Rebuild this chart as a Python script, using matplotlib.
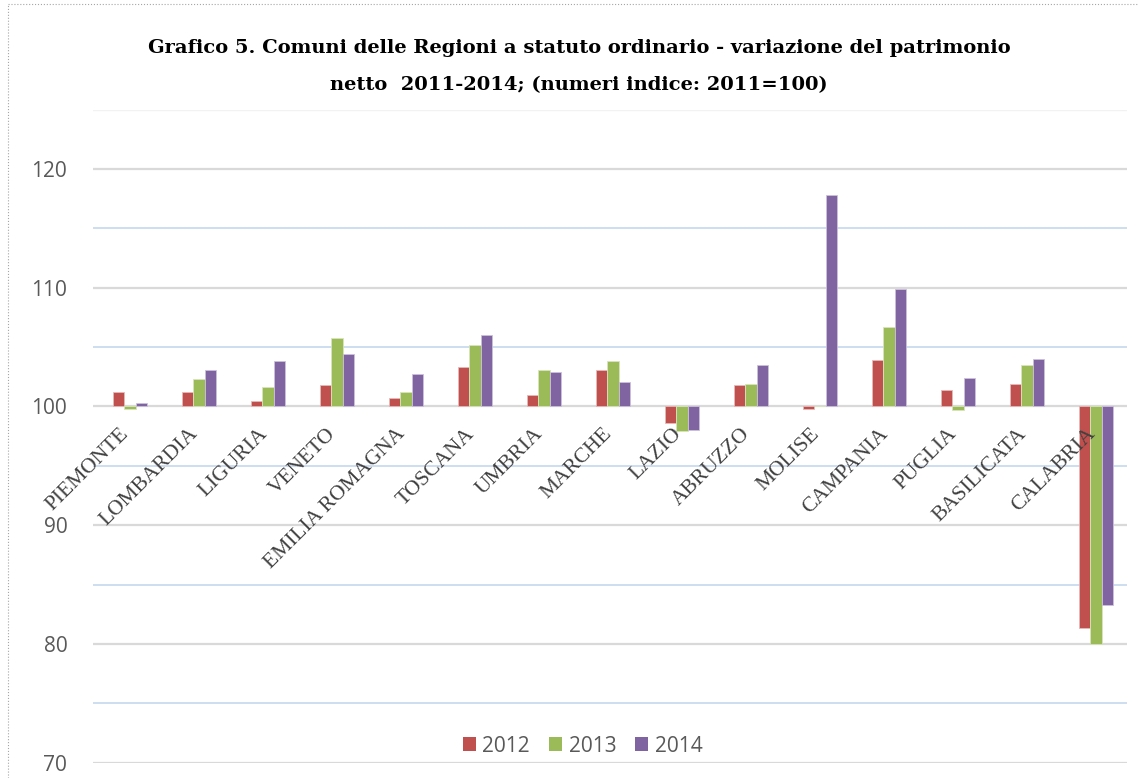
import matplotlib
matplotlib.use('Agg')
import matplotlib.pyplot as plt
from matplotlib.patches import Patch
from matplotlib.lines import Line2D
import numpy as np

# ---- data ----
regions = ["PIEMONTE", "LOMBARDIA", "LIGURIA", "VENETO", "EMILIA ROMAGNA",
           "TOSCANA", "UMBRIA", "MARCHE", "LAZIO", "ABRUZZO", "MOLISE",
           "CAMPANIA", "PUGLIA", "BASILICATA", "CALABRIA"]
years = ["2012", "2013", "2014"]
v2012 = [101.2, 101.2, 100.5, 101.8, 100.7, 103.3, 101.0, 103.1, 98.6, 101.8,
         99.8, 103.9, 101.4, 101.9, 81.3]
v2013 = [99.8, 102.3, 101.6, 105.8, 101.2, 105.2, 103.1, 103.8, 97.9, 101.9,
         100.0, 106.7, 99.7, 103.5, 80.0]
v2014 = [100.3, 103.1, 103.8, 104.4, 102.7, 106.0, 102.9, 102.1, 98.0, 103.5,
         117.8, 109.9, 102.4, 104.0, 83.3]
base_value = 100
major_ticks = [70, 80, 90, 100, 110, 120]
minor_ticks = [75, 85, 95, 105, 115]
title_line1 = "Grafico 5. Comuni delle Regioni a statuto ordinario - variazione del patrimonio"
title_line2 = "netto  2011-2014; (numeri indice: 2011=100)"

colors = ["#C0504D", "#9BBB59", "#8064A2"]
edge_colors = ["#E6B9B8", "#D7E4BD", "#CCC1DA"]

W, H = 1138, 778
fig = plt.figure(figsize=(W / 100, H / 100), dpi=100)
fig.patch.set_facecolor("white")

ax_left, ax_right = 93, 1127
ax_bottom_px, ax_top_px = 762.6, 109.7
ax = fig.add_axes([ax_left / W, (H - ax_bottom_px) / H,
                   (ax_right - ax_left) / W, (ax_bottom_px - ax_top_px) / H])

x = np.arange(len(regions))
bw = 0.16
series = [v2012, v2013, v2014]
for i, vals in enumerate(series):
    vals = np.array(vals)
    ax.bar(x + (i - 1) * bw, vals - base_value, bottom=base_value, width=bw,
           color=colors[i], edgecolor=edge_colors[i], linewidth=0.6,
           zorder=3, label=years[i])

ax.set_ylim(70, 125)
ax.set_xlim(-0.536, 14.449)
ax.set_yticks(major_ticks)
ax.set_yticks(minor_ticks, minor=True)
ax.set_xticks([])
ax.grid(which="major", axis="y", color="#D9D9D9", linewidth=1.6, zorder=0)
ax.grid(which="minor", axis="y", color="#C6D7EE", linewidth=1.2, zorder=0)
ax.axhline(125, color="#F2F2F2", linewidth=1.0, zorder=0)
ax.set_axisbelow(True)
for s in ax.spines.values():
    s.set_visible(False)
ax.tick_params(axis="y", which="both", length=0, pad=18.5,
               labelsize=15, labelcolor="#595959")
for lab in ax.get_yticklabels():
    lab.set_fontfamily(["Open Sans", "DejaVu Sans"])

# category labels, rotated
for i, name in enumerate(regions):
    ax.text(i - 0.15, 98.5, name, rotation=45, rotation_mode="anchor",
            ha="right", va="top", fontsize=15.5, color="#404040",
            family=["Liberation Serif", "DejaVu Serif"], zorder=4)

# title
fig.text(579 / W, (H - 48) / H, title_line1, ha="center", va="center",
         fontsize=14.0, fontweight="bold", family=["DejaVu Serif"], color="black")
fig.text(579 / W, (H - 85) / H, title_line2, ha="center", va="center",
         fontsize=14.0, fontweight="bold", family=["DejaVu Serif"], color="black")

# legend
handles = [Patch(facecolor=colors[i], edgecolor="none", label=years[i]) for i in range(3)]
leg = fig.legend(handles=handles, loc="center", bbox_to_anchor=(582.5 / W, (H - 746) / H),
                 ncol=3, frameon=False, handlelength=0.65, handleheight=0.65,
                 handletextpad=0.3, columnspacing=0.9,
                 prop={"family": ["Open Sans", "DejaVu Sans"], "size": 15})
for t in leg.get_texts():
    t.set_color("#595959")

# chart-area dotted border (left and top)
fig.add_artist(Line2D([8 / W, 8 / W], [0, 1 - 4 / H], transform=fig.transFigure,
                      color="#A6A6A6", linewidth=0.8, linestyle=":"))
fig.add_artist(Line2D([8 / W, 1], [1 - 4 / H, 1 - 4 / H], transform=fig.transFigure,
                      color="#A6A6A6", linewidth=0.8, linestyle=":"))

fig.savefig("out.png", dpi=100, facecolor="white")
